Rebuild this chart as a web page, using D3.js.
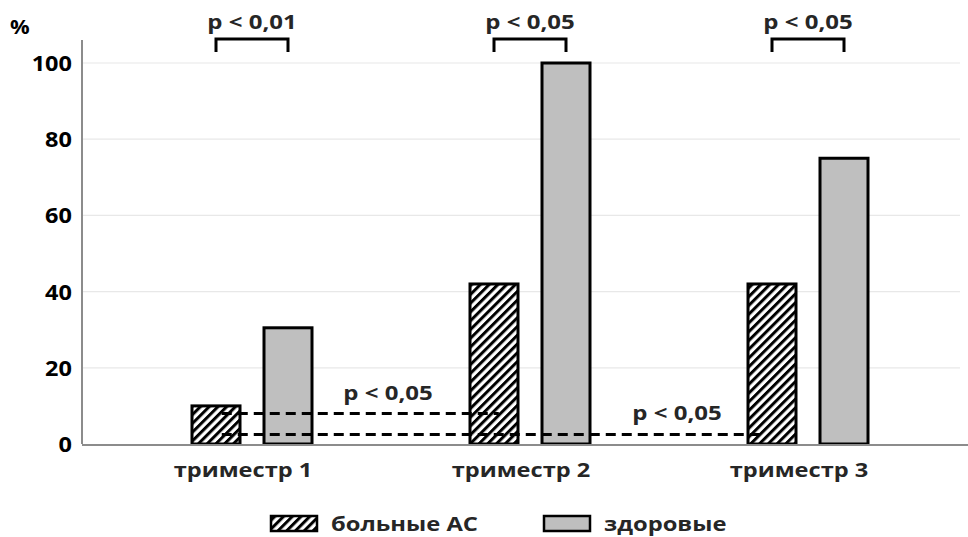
<!DOCTYPE html>
<html><head><meta charset="utf-8">
<script src="https://cdn.jsdelivr.net/npm/d3@7"></script>
<style>body{margin:0;background:#fff}text{font-family:"Open Sans","Noto Sans",sans-serif;font-weight:700}</style>
</head><body><svg id="c" width="968" height="537"></svg>
<script>
const categories = ["триместр 1","триместр 2","триместр 3"];
const seriesNames = ["больные АС","здоровые"];
const sick = [10, 42, 42];
const healthy = [30.5, 100, 75];
const yTicks = [0,20,40,60,80,100];
const topP = ["p < 0,01","p < 0,05","p < 0,05"];
const crossP = [{from:0,to:1,value:8,label:"p < 0,05"},{from:0,to:2,value:2.5,label:"p < 0,05"}];

const svg = d3.select("#c");
function label(g, x, y, txt, size, anchor, fill, sx){
  return g.append("text").attr("transform",`translate(${x},${y}) scale(${sx},1)`)
    .attr("text-anchor",anchor||"middle").attr("font-size",size).attr("fill",fill||"#262626").text(txt);
}
const defs = svg.append("defs");
const pat = defs.append("pattern").attr("id","hatch").attr("patternUnits","userSpaceOnUse")
  .attr("width",6.2).attr("height",6.2).attr("patternTransform","rotate(45)");
pat.append("rect").attr("width",6.2).attr("height",6.2).attr("fill","#fff");
pat.append("rect").attr("x",0).attr("y",0).attr("width",3).attr("height",6.2).attr("fill","#000");

const y = d3.scaleLinear().domain([0,100]).range([444,63]);
const x = d3.scaleBand().domain(categories).range([113,947]).paddingInner(0).paddingOuter(0);
const barW = 48, gap = 24;
const cx = c => x(c) + x.bandwidth()/2;
const sickX = c => cx(c) - gap/2 - barW;
const healthyX = c => cx(c) + gap/2;

// grid
svg.append("g").selectAll("line").data(yTicks.filter(d=>d>0)).join("line")
  .attr("x1",83).attr("x2",960).attr("y1",d=>y(d)).attr("y2",d=>y(d))
  .attr("stroke","#e8e8e8").attr("stroke-width",1.2);

// y axis
const ya = svg.append("g");
y.ticks(5).filter(t=>yTicks.includes(t)).forEach(t=>{
  label(ya, 72, y(t)+8, String(t), 21, "end", "#000", 1.12);
});
svg.append("line").attr("x1",82).attr("x2",82).attr("y1",40).attr("y2",444).attr("stroke","#8c8c8c").attr("stroke-width",2);
label(svg, 10, 34, "%", 19, "start", "#000", 1.15);

// bars
svg.append("g").selectAll("rect").data(categories).join("rect")
  .attr("x",c=>sickX(c)).attr("width",barW)
  .attr("y",(c,i)=>y(sick[i])).attr("height",(c,i)=>y(0)-y(sick[i]))
  .attr("fill","url(#hatch)").attr("stroke","#000").attr("stroke-width",3);
svg.append("g").selectAll("rect").data(categories).join("rect")
  .attr("x",c=>healthyX(c)).attr("width",barW)
  .attr("y",(c,i)=>y(healthy[i])).attr("height",(c,i)=>y(0)-y(healthy[i]))
  .attr("fill","#bfbfbf").attr("stroke","#000").attr("stroke-width",3);

// baseline
svg.append("line").attr("x1",82).attr("x2",968).attr("y1",y(0)+1).attr("y2",y(0)+1).attr("stroke","#8c8c8c").attr("stroke-width",2);

// x labels
const xl = svg.append("g");
categories.forEach(c=>label(xl, cx(c)-9, 477, c, 20, "middle", "#262626", 1.18));

// top brackets
const br = svg.append("g");
categories.forEach((c,i)=>{
  const x1 = sickX(c)+barW/2, x2 = healthyX(c)+barW/2;
  br.append("path").attr("d",`M${x1},${52}V${39}H${x2}V${52}`).attr("fill","none").attr("stroke","#000").attr("stroke-width",3);
  label(br, (x1+x2)/2, 29, topP[i], 20, "middle", "#262626", 1.2);
});

// cross-group dashed
crossP.forEach((p,k)=>{
  const x1 = sickX(categories[p.from])+barW*0.62;
  const x2 = sickX(categories[p.to])+barW*(k===0?0.6:0.3);
  const yy = y(p.value);
  svg.append("line").attr("x1",x1).attr("x2",x2).attr("y1",yy).attr("y2",yy)
    .attr("stroke","#000").attr("stroke-width",3).attr("stroke-dasharray","10,6");
  const lx = k===0 ? 388 : (healthyX(categories[1])+barW + sickX(categories[2]))/2+8;
  label(svg, lx, yy-14, p.label, 20, "middle", "#262626", 1.2);
});

// legend
const lg = svg.append("g");
const legItems = [{name:seriesNames[0],fill:"url(#hatch)",x:271},{name:seriesNames[1],fill:"#bfbfbf",x:544}];
legItems.forEach(it=>{
  lg.append("rect").attr("x",it.x).attr("y",516).attr("width",46).attr("height",15).attr("fill",it.fill).attr("stroke","#000").attr("stroke-width",2.5);
  label(lg, it.x+60, 531, it.name, 19, "start", "#262626", 1.25);
});
</script></body></html>
